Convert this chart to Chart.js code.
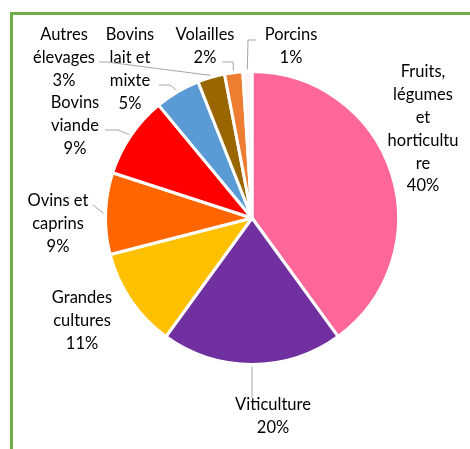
<!DOCTYPE html>
<html>
<head>
<meta charset="utf-8">
<script src="https://cdn.jsdelivr.net/npm/chart.js@4/dist/chart.umd.min.js"></script>
<style>
  html, body { margin: 0; padding: 0; background: #fff; }
  #wrap { position: relative; width: 470px; height: 449px; }
</style>
</head>
<body>
<div id="wrap"><canvas id="c" width="470" height="449"></canvas></div>
<script>
// ---- Data ----
const categories = [
  "Fruits, légumes et horticulture",
  "Viticulture",
  "Grandes cultures",
  "Ovins et caprins",
  "Bovins viande",
  "Bovins lait et mixte",
  "Autres élevages",
  "Volailles",
  "Porcins"
];
const shares = [40, 20, 11, 9, 9, 5, 3, 2, 1];
const labelLines = [
  ["Fruits,", "légumes", "et", "horticultu", "re"],
  ["Viticulture"],
  ["Grandes", "cultures"],
  ["Ovins et", "caprins"],
  ["Bovins", "viande"],
  ["Bovins", "lait et", "mixte"],
  ["Autres", "élevages"],
  ["Volailles"],
  ["Porcins"]
];
const sliceColors = ["#FF6699", "#7030A0", "#FFC000", "#FF6600", "#FF0000", "#5B9BD5", "#996600", "#ED7D31", "#FFF5F8"];

// ---- Label layout (text centre x, first line y, leader-line elbow points) ----
const labelLayout = [
  { x: 423, y: 72, leader: null },
  { x: 273, y: 405, leader: [[252, 398]] },
  { x: 82, y: 298, leader: null },
  { x: 58, y: 201, leader: [[93, 205]] },
  { x: 75, y: 103, leader: [[118, 130], [105, 130]] },
  { x: 130, y: 35, leader: [[170, 85], [159, 85]] },
  { x: 64, y: 35, leader: [[107, 62], [99, 62]] },
  { x: 205, y: 35, leader: [[233, 62], [222, 62]] },
  { x: 291, y: 35, leader: [[248, 40], [256, 40]] }
];

const FONT = '16.5px Lato, "Open Sans", sans-serif';
const LINE_H = 22.8;

const framePlugin = {
  id: 'frame',
  beforeDraw(chart) {
    const ctx = chart.ctx;
    ctx.save();
    ctx.strokeStyle = '#70AD47';
    ctx.lineWidth = 3;
    ctx.strokeRect(11.5, 13.5, 520, 520);
    ctx.restore();
  }
};

const labelPlugin = {
  id: 'outLabels',
  afterDatasetsDraw(chart) {
    const ctx = chart.ctx;
    const meta = chart.getDatasetMeta(0);
    ctx.save();
    meta.data.forEach((arc, i) => {
      const lay = labelLayout[i];
      const p = arc.getProps(['x', 'y', 'startAngle', 'endAngle', 'outerRadius'], true);
      const mid = (p.startAngle + p.endAngle) / 2;
      if (lay.leader) {
        const r = p.outerRadius + 2;
        const sx = p.x + Math.cos(mid) * r;
        const sy = p.y + Math.sin(mid) * r;
        ctx.strokeStyle = '#A6A6A6';
        ctx.lineWidth = 1;
        ctx.beginPath();
        ctx.moveTo(sx, sy);
        lay.leader.forEach(pt => ctx.lineTo(pt[0], pt[1]));
        ctx.stroke();
      }
      const lines = labelLines[i].concat([shares[i] + '%']);
      ctx.fillStyle = '#000000';
      ctx.font = FONT;
      ctx.textAlign = 'center';
      ctx.textBaseline = 'middle';
      lines.forEach((t, k) => ctx.fillText(t, lay.x, lay.y + k * LINE_H));
    });
    ctx.restore();
  }
};

new Chart(document.getElementById('c'), {
  type: 'pie',
  data: {
    labels: categories,
    datasets: [{
      data: shares,
      backgroundColor: sliceColors,
      borderColor: '#FFFFFF',
      borderWidth: 3
    }]
  },
  options: {
    responsive: false,
    animation: false,
    layout: { padding: { left: 104, top: 70, right: 70, bottom: 83 } },
    plugins: {
      legend: { display: false },
      tooltip: { enabled: false },
      title: { display: false }
    }
  },
  plugins: [framePlugin, labelPlugin]
});
</script>
</body>
</html>
